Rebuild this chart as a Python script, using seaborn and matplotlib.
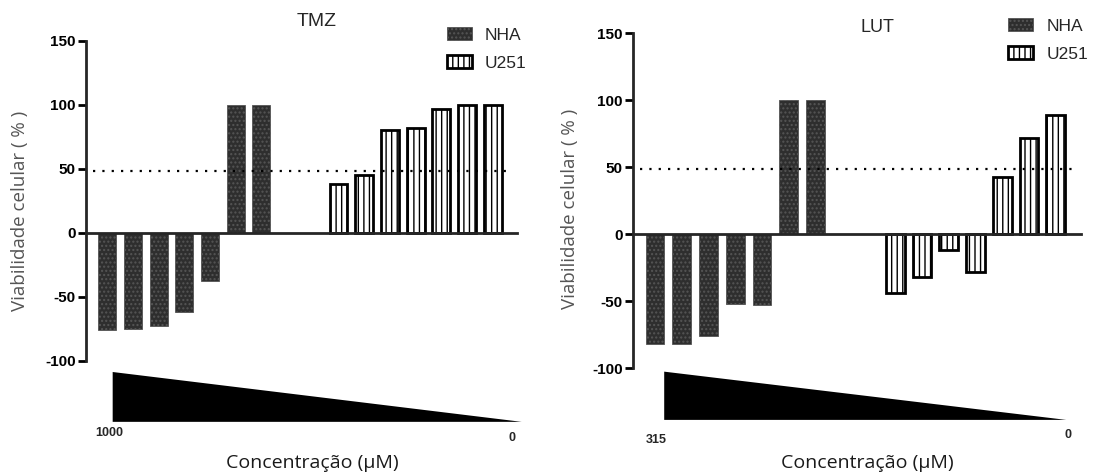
import numpy as np
import pandas as pd
import matplotlib
matplotlib.use("Agg")
import matplotlib.pyplot as plt
from matplotlib.patches import Patch
import seaborn as sns

# ---- data ----
groups = ["NHA", "U251"]
tmz_nha = [-76, -75, -73, -62, -38, 100, 100]
tmz_u251 = [38, 45, 80, 82, 97, 100, 100]
lut_nha = [-82, -82, -76, -52, -53, 100, 100]
lut_u251 = [-44, -32, -12, -28, 43, 72, 89]
nha_slots = [0, 1, 2, 3, 4, 5, 6]
u251_slots = [9, 10, 11, 12, 13, 14, 15]
titles = ["TMZ", "LUT"]
conc_high = ["1000", "315"]
conc_low = ["0", "0"]
threshold = [48, 49]
yticks = [-100, -50, 0, 50, 100, 150]

sns.set_style("white")
plt.rcParams["hatch.linewidth"] = 1.0

fig = plt.figure(figsize=(11.03, 4.75), dpi=100)
W, H = 1103, 475

def frac_axes(x0, x1, ytop, ybot):
    return fig.add_axes([x0 / W, 1 - ybot / H, (x1 - x0) / W, (ybot - ytop) / H])

axes = [frac_axes(85.7, 517.3, 41, 360.5), frac_axes(632.7, 1081.2, 33.3, 368.3)]
panels = [(tmz_nha, tmz_u251), (lut_nha, lut_u251)]
tri_y = [(-109, -148), (-102.5, -138.5)]
tri_x = [(0.21, 16.13), (0.34, 15.4)]
hl_x = [(-0.54, 15.6), (-0.58, 15.68)]

for i, ax in enumerate(axes):
    nha, u251 = panels[i]
    df = pd.DataFrame({
        "pos": nha_slots + u251_slots,
        "val": nha + u251,
        "grp": [groups[0]] * len(nha) + [groups[1]] * len(u251),
    })
    sns.barplot(data=df, x="pos", y="val", hue="grp", native_scale=True,
                dodge=False, width=0.7, legend=False, ax=ax,
                palette={"NHA": "#333333", "U251": "white"}, saturation=1)
    for cont in ax.containers:
        for b in cont:
            if b.get_x() + b.get_width() / 2 < 7.5:
                b.set_facecolor("#2e2e2e")
                b.set_edgecolor("#555555")
                b.set_hatch("....")
                b.set_linewidth(0.6)
            else:
                b.set_facecolor("white")
                b.set_edgecolor("black")
                b.set_hatch("|||")
                b.set_linewidth(2.0)
    ax.set_xlim(-0.84, 15.96)
    ax.set_ylim(-100, 150)
    ax.set_yticks(yticks)
    ax.set_yticklabels([str(t) for t in yticks], fontweight="bold",
                       fontsize=11, family="Liberation Sans")
    ax.set_xticks([])
    ax.set_xlabel("")
    ax.set_ylabel("")
    for s in ["top", "right"]:
        ax.spines[s].set_visible(False)
    ax.spines["bottom"].set_position(("data", 0))
    ax.spines["bottom"].set_linewidth(2)
    ax.spines["left"].set_linewidth(2)
    ax.spines["left"].set_bounds(-100, 150)
    ax.tick_params(axis="y", which="both", left=True, length=6, width=2,
                   direction="out", pad=1, colors="black")
    ax.patch.set_alpha(0)
    ax.hlines(threshold[i], hl_x[i][0], hl_x[i][1], colors="black",
              linestyles=(0, (1, 3.2)), linewidth=1.6)
    # concentration wedge
    x0, x1 = tri_x[i]
    yt, yb = tri_y[i]
    ax.fill([x0, x1, x0], [yt, yb, yb], color="black", clip_on=False, lw=0)

fig.text(317 / W, 1 - 21 / H, titles[0], ha="center", va="center", fontsize=14,
         family="Liberation Sans")
fig.text(877 / W, 1 - 27.5 / H, titles[1], ha="center", va="center", fontsize=13,
         family="Liberation Sans")

# concentration labels
lab_kw = dict(ha="center", va="center", fontsize=9, fontweight="bold",
              family="Liberation Sans")
fig.text(109.3 / W, 1 - 433 / H, conc_high[0], **lab_kw)
fig.text(512.3 / W, 1 - 438 / H, conc_low[0], **lab_kw)
fig.text(656 / W, 1 - 440 / H, conc_high[1], **lab_kw)
fig.text(1068 / W, 1 - 435 / H, conc_low[1], **lab_kw)

for xc in [312, 867]:
    fig.text(xc / W, 1 - 463 / H, "Concentração (μM)", ha="center",
             va="center", fontsize=14, family="Open Sans", color="#1a1a1a")
for xc, yc in [(20, 211), (570, 209)]:
    fig.text(xc / W, 1 - yc / H, "Viabilidade celular ( % )", ha="center",
             va="center", rotation=90, fontsize=13.5, family="Open Sans",
             color="#555555")

# legends
handles = [
    Patch(facecolor="#2e2e2e", edgecolor="#555555", hatch="....", lw=0.6, label=groups[0]),
    Patch(facecolor="white", edgecolor="black", hatch="|||", lw=2, label=groups[1]),
]
for xl, yl in [(446.7 / W, 1 - 27 / H), (1008 / W, 1 - 18 / H)]:
    fig.legend(handles=handles, loc="upper left", bbox_to_anchor=(xl, yl),
               frameon=False, prop={"family": "Liberation Sans", "size": 12.5},
               handlelength=1.45, handleheight=0.8, handletextpad=0.75,
               labelspacing=0.7, borderpad=0, borderaxespad=0)

fig.savefig("out.png", dpi=100)
